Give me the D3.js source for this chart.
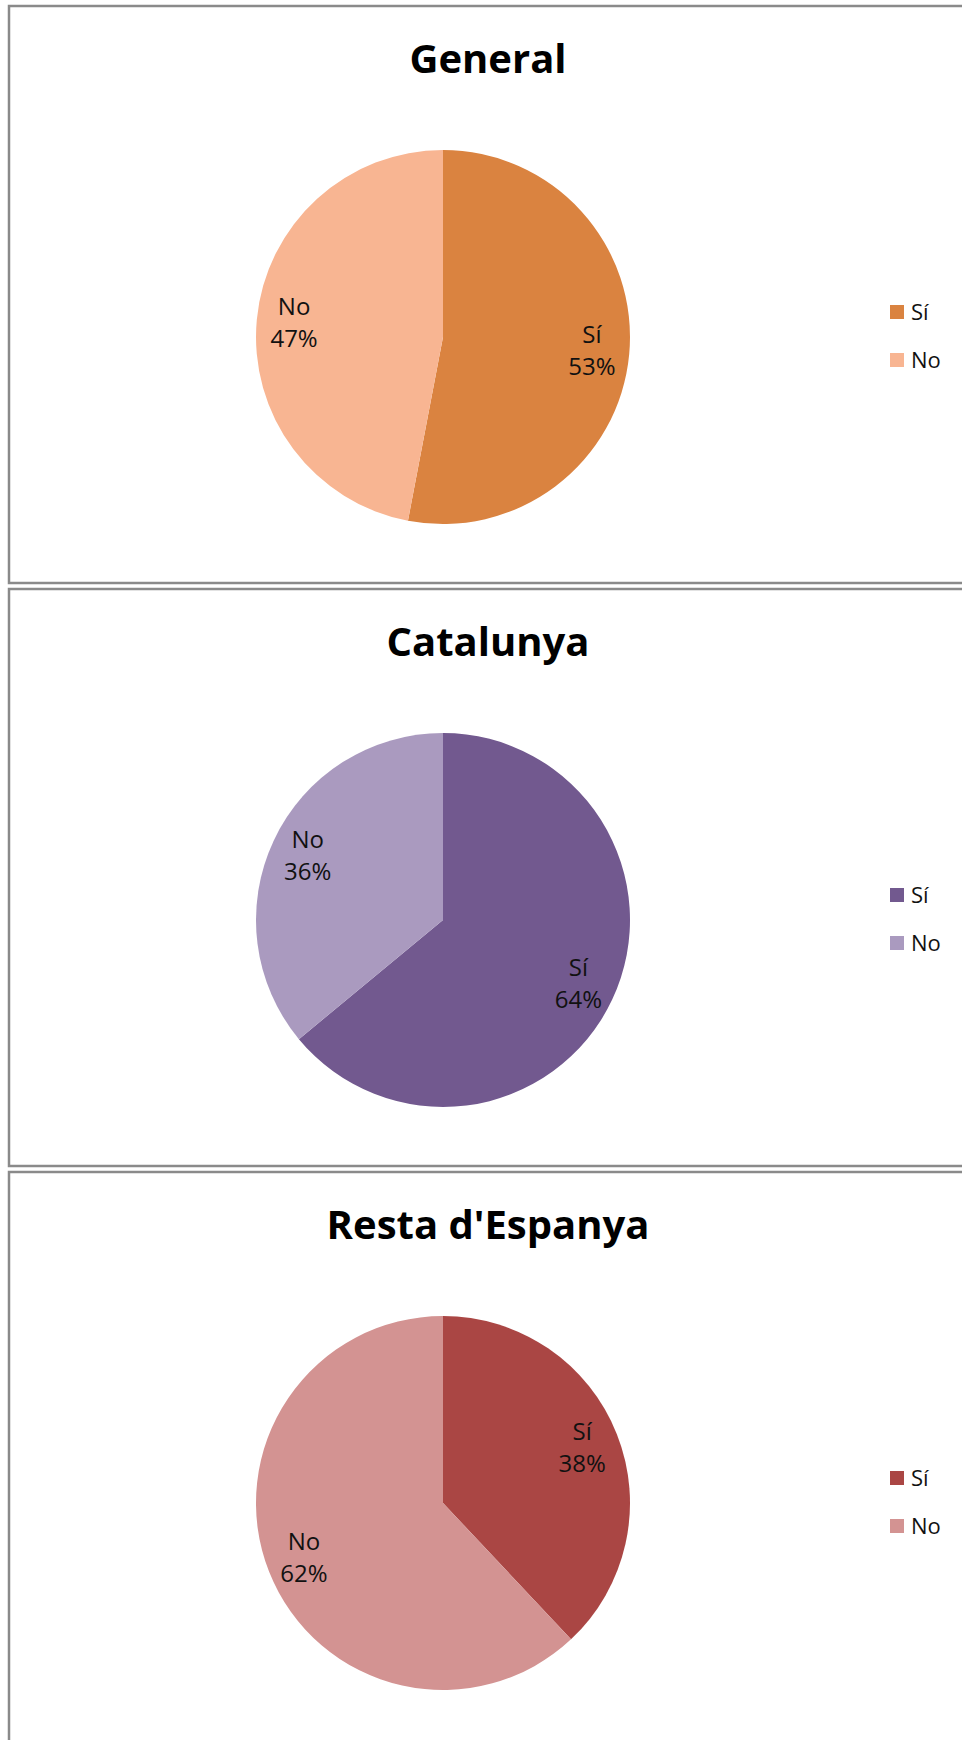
<!DOCTYPE html>
<html>
<head>
<meta charset="utf-8">
<script src="https://cdn.jsdelivr.net/npm/d3@7"></script>
<style>
  body { margin: 0; background: #fff; }
  svg { display: block; }
</style>
</head>
<body>
<svg width="962" height="1740"></svg>
<script>
// one pie per region, Sí first (starts at 12 o'clock, clockwise)
var titles = ['General', 'Catalunya', "Resta d'Espanya"];
var categories = ['Sí', 'No'];
var generalVals = [53, 47];
var catalunyaVals = [64, 36];
var restaVals = [38, 62];
var palettes = [
  ['#DA8340', '#F8B592'],
  ['#72598F', '#AA9ABF'],
  ['#AA4644', '#D39392']
];

var seriesList = [generalVals, catalunyaVals, restaVals];

var svg = d3.select('svg');
var panelTop = 6, panelStep = 583, panelH = 577;
var cx = 443, cyOff = 331, r = 187;

var pie = d3.pie().sort(null).value(function(d) { return d; });
var arc = d3.arc().innerRadius(0).outerRadius(r);
var labelArc = d3.arc().innerRadius(r * 0.8).outerRadius(r * 0.8);

seriesList.forEach(function(vals, i) {
  var top = panelTop + i * panelStep;
  var g = svg.append('g').attr('transform', 'translate(0,' + top + ')');

  // panel frame (right edge runs off the page)
  g.append('rect')
    .attr('x', 9).attr('y', 0)
    .attr('width', 1000).attr('height', panelH)
    .attr('fill', '#fff')
    .attr('stroke', '#8a8a8a')
    .attr('stroke-width', 2.5);

  g.append('text')
    .attr('x', 488).attr('y', 67)
    .attr('text-anchor', 'middle')
    .attr('font-family', 'Open Sans, sans-serif')
    .attr('font-weight', 'bold')
    .attr('font-size', 40)
    .attr('fill', '#000')
    .text(titles[i]);

  var color = d3.scaleOrdinal().domain(categories).range(palettes[i]);
  var arcs = pie(vals);

  var pg = g.append('g').attr('transform', 'translate(' + cx + ',' + cyOff + ')');
  pg.selectAll('path')
    .data(arcs)
    .enter()
    .append('path')
    .attr('d', arc)
    .attr('fill', function(d, j) { return color(categories[j]); });

  var lbl = pg.selectAll('text.lbl')
    .data(arcs)
    .enter()
    .append('text')
    .classed('lbl', true)
    .attr('text-anchor', 'middle')
    .attr('font-family', 'Open Sans, sans-serif')
    .attr('font-size', 24)
    .attr('fill', '#111')
    .attr('transform', function(d) { return 'translate(' + labelArc.centroid(d) + ')'; });
  lbl.append('tspan').attr('x', 0).attr('y', -8)
    .text(function(d, j) { return categories[j]; });
  lbl.append('tspan').attr('x', 0).attr('y', 24)
    .text(function(d) { return d.value + '%'; });

  // legend
  var lg = g.selectAll('g.leg')
    .data(categories)
    .enter()
    .append('g')
    .classed('leg', true)
    .attr('transform', function(d, j) { return 'translate(890,' + (299 + j * 48) + ')'; });
  lg.append('rect')
    .attr('width', 14).attr('height', 14)
    .attr('fill', function(d) { return color(d); });
  lg.append('text')
    .attr('x', 21).attr('y', 15)
    .attr('font-family', 'Open Sans, sans-serif')
    .attr('font-size', 22)
    .attr('fill', '#111')
    .text(function(d) { return d; });
});
</script>
</body>
</html>
